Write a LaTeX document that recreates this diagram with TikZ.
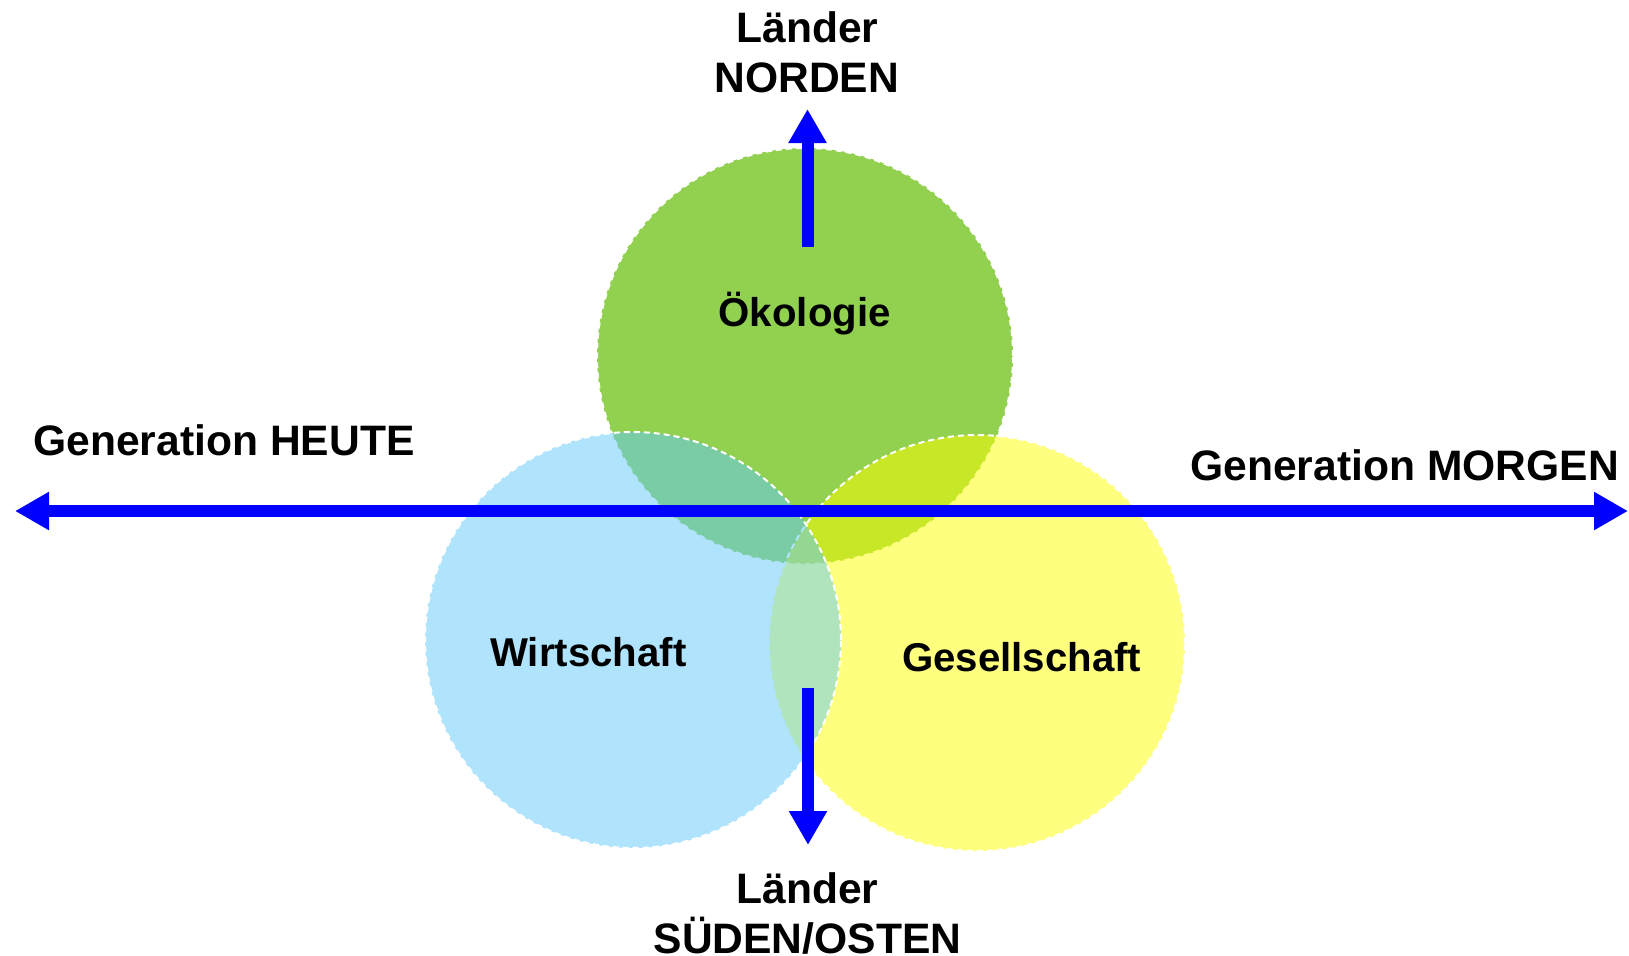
\documentclass[tikz,border=0pt]{standalone}
\usepackage{fontspec}
\setmainfont{Liberation Sans}
\usetikzlibrary{arrows.meta}
\definecolor{oekogreen}{HTML}{92D050}
\definecolor{wirtblue}{RGB}{97,201,249}
\definecolor{gesyellow}{HTML}{FFFF00}
\definecolor{pfeilblue}{HTML}{0000FF}
\tikzset{
  spitze/.tip={Triangle[length=17pt,width=18pt]},
  kreis/.style={draw=white,line width=1pt,dash pattern=on 3pt off 2pt},
  achse/.style={pfeilblue,line width=6pt,-spitze},
  gross/.style={font=\fontsize{21.3}{25}\selectfont\bfseries,inner sep=0pt,anchor=base},
  klein/.style={font=\fontsize{20.1}{24}\selectfont\bfseries,inner sep=0pt,anchor=base}
}
\begin{document}
\begin{tikzpicture}[x=0.5pt,y=0.5pt]
\useasboundingbox (0,0) rectangle (1629,-955);
% the three circles: green first, then yellow, then blue on top
\foreach \x/\y/\farbe/\deck in {805/-356/oekogreen/1,977/-643/gesyellow/.5,633/-640/wirtblue/.5}{
\filldraw[kreis,fill=\farbe,fill opacity=\deck] (\x,\y) circle (208);}
\coordinate (heuteEnd) at (15,-511);\coordinate (morgenEnd) at (1628,-511);
\coordinate (nordFuss) at (807.5,-246.5);\coordinate (nordSpitze) at (807.5,-109);
\coordinate (suedFuss) at (808,-688);\coordinate (suedSpitze) at (808,-845);
\draw[achse,spitze-spitze] (heuteEnd)--(morgenEnd);
\draw[achse] (nordFuss)--(nordSpitze);
\draw[achse] (suedFuss)--(suedSpitze);
\node[gross] (laenderN) at (807.5,-42.3) {Länder};
\node[gross] (norden) at (806.7,-92.3) {NORDEN};
\node[gross,anchor=base west] (heute) at (33,-455) {Generation HEUTE};
\node[gross,anchor=base west] (morgen) at (1190,-480.7) {Generation MORGEN};
\node[klein] (oekologie) at (804.7,-326.7) {Ökologie};
\node[klein] (wirtschaft) at (588.3,-666.7) {Wirtschaft};
\node[klein] (gesellschaft) at (1021.7,-671.7) {Gesellschaft};
\node[gross] (laenderS) at (807.5,-903.5) {Länder};
\node[gross] (sueden) at (807.5,-953.5) {SÜDEN/OSTEN};
\end{tikzpicture}
\end{document}
